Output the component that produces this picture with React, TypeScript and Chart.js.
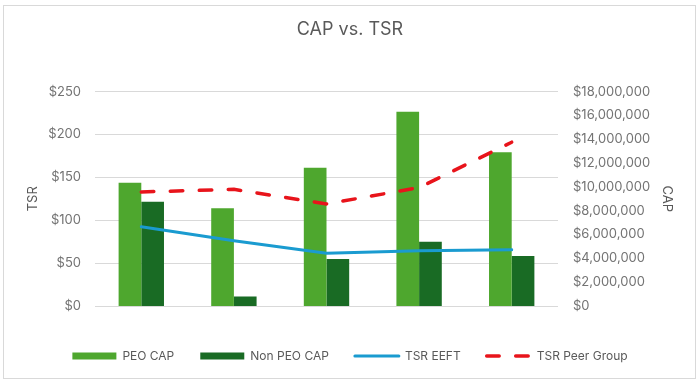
import React, { useEffect, useRef } from "react";
import { Chart, registerables } from "chart.js";

Chart.register(...registerables);

const categories = ["2020", "2021", "2022", "2023", "2024"];
const peoCap = [10350000, 8200000, 11600000, 16300000, 12900000];
const nonPeoCap = [8750000, 800000, 3950000, 5400000, 4200000];
const tsrEeft = [92.5, 76, 61.5, 64.5, 65.5];
const tsrPeer = [133, 136, 119, 138, 191];
const tsrTicks = [0, 50, 100, 150, 200, 250];
const capTickStep = 2000000;
const capMax = 18000000;

const PEO_COLOR = "#4EA72E";
const NONPEO_COLOR = "#196B24";
const EEFT_COLOR = "#1A9BD0";
const PEER_COLOR = "#E8141B";
const TEXT = "#595959";
const TICK = "#737373";
const FONT = "Inter";

export default function App() {
  const ref = useRef<HTMLCanvasElement | null>(null);
  useEffect(() => {
    if (!ref.current) return;
    const chart = new Chart(ref.current, {
      type: "bar",
      data: {
        labels: categories,
        datasets: [
          {
            type: "bar",
            label: "PEO CAP",
            data: peoCap,
            backgroundColor: PEO_COLOR,
            yAxisID: "y1",
            order: 2,
            barPercentage: 1,
            categoryPercentage: 0.49,
          },
          {
            type: "bar",
            label: "Non PEO CAP",
            data: nonPeoCap,
            backgroundColor: NONPEO_COLOR,
            yAxisID: "y1",
            order: 2,
            barPercentage: 1,
            categoryPercentage: 0.49,
          },
          {
            type: "line",
            label: "TSR EEFT",
            data: tsrEeft,
            borderColor: EEFT_COLOR,
            backgroundColor: EEFT_COLOR,
            borderWidth: 3,
            pointRadius: 0,
            tension: 0,
            yAxisID: "y",
            order: 1,
            borderCapStyle: "round",
          },
          {
            type: "line",
            label: "TSR Peer Group",
            data: tsrPeer,
            borderColor: PEER_COLOR,
            backgroundColor: PEER_COLOR,
            borderWidth: 3.5,
            borderDash: [12.5, 16.5],
            borderCapStyle: "round",
            pointRadius: 0,
            tension: 0,
            yAxisID: "y",
            order: 1,
          },
        ],
      },
      options: {
        animation: false,
        responsive: false,
        maintainAspectRatio: false,
        layout: { padding: { left: 25, right: 25, top: 8, bottom: 9 } },
        plugins: {
          title: {
            display: true,
            text: "CAP vs. TSR",
            color: TEXT,
            font: { family: FONT, size: 18, weight: "normal" },
            padding: { top: 11, bottom: 51 },
          },
          tooltip: { enabled: false },
          legend: {
            position: "bottom",
            labels: {
              usePointStyle: true,
              pointStyleWidth: 44,
              boxHeight: 7,
              padding: 26,
              color: TEXT,
              font: { family: FONT, size: 12 },
              generateLabels: () => [
                { text: "PEO CAP", fillStyle: PEO_COLOR, strokeStyle: PEO_COLOR, lineWidth: 0, pointStyle: "rect", fontColor: TEXT, datasetIndex: 0, hidden: false },
                { text: "Non PEO CAP", fillStyle: NONPEO_COLOR, strokeStyle: NONPEO_COLOR, lineWidth: 0, pointStyle: "rect", fontColor: TEXT, datasetIndex: 1, hidden: false },
                { text: "TSR EEFT", fillStyle: EEFT_COLOR, strokeStyle: EEFT_COLOR, lineWidth: 3, pointStyle: "line", lineCap: "round", fontColor: TEXT, datasetIndex: 2, hidden: false },
                { text: "TSR Peer Group", fillStyle: PEER_COLOR, strokeStyle: PEER_COLOR, lineWidth: 3.5, pointStyle: "line", lineCap: "round", lineDash: [12.5, 16.5], fontColor: TEXT, datasetIndex: 3, hidden: false },
              ] as any,
            },
          },
        },
        scales: {
          x: {
            grid: { display: false },
            border: { display: false },
            ticks: { color: TICK, font: { family: FONT, size: 13 }, padding: 11 },
            afterFit: (s: any) => { s.height = 18; },
          },
          y: {
            position: "left",
            min: tsrTicks[0],
            max: tsrTicks[tsrTicks.length - 1],
            afterBuildTicks: (s: any) => { s.ticks = tsrTicks.map((v) => ({ value: v })); },
            grid: { color: "#d9d9d9", lineWidth: 1, drawTicks: false },
            border: { display: false },
            ticks: {
              color: TICK,
              font: { family: FONT, size: 13 },
              padding: 14,
              callback: (v: any) => "$" + v,
            },
            title: {
              display: true,
              text: "TSR",
              color: TEXT,
              font: { family: FONT, size: 13 },
              padding: 0,
            },
            afterFit: (s: any) => { s.width = 70; },
          },
          y1: {
            position: "right",
            min: 0,
            max: capMax,
            grid: { display: false, drawTicks: false },
            border: { display: false },
            ticks: {
              stepSize: capTickStep,
              color: TICK,
              font: { family: FONT, size: 13 },
              padding: 15,
              callback: (v: any) => "$" + Number(v).toLocaleString("en-US"),
            },
            title: {
              display: true,
              text: "CAP",
              color: TEXT,
              font: { family: FONT, size: 13 },
              padding: 0,
            },
            afterFit: (s: any) => { s.width = 117; },
          },
        },
      },
    });
    return () => chart.destroy();
  }, []);

  return (
    <div style={{ position: "fixed", left: 0, top: 0, width: 700, height: 381, background: "#fff" }}>
      <canvas ref={ref} width={700} height={381} style={{ position: "absolute", left: 0, top: 0, width: 700, height: 381 }} />
      <div
        style={{
          position: "absolute",
          left: 3,
          top: 5,
          width: 691,
          height: 372,
          border: "1px solid #d9d9d9",
          pointerEvents: "none",
        }}
      />
    </div>
  );
}
